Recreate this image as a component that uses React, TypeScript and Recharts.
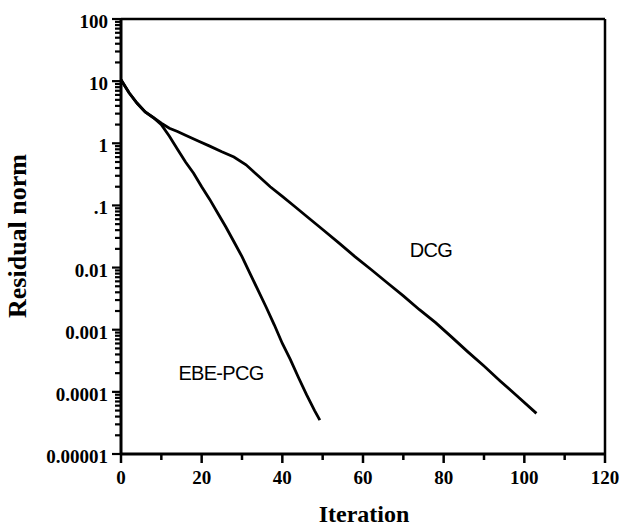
import { LineChart, Line, XAxis, YAxis, ReferenceLine } from "recharts";

// DCG convergence history (residual norm per iteration)
const dcgIter = [0, 2, 4, 6, 8, 10, 12, 14, 16, 19, 22, 25, 28, 31, 34, 37, 40, 43, 46, 50, 54, 58, 62, 66, 70, 74, 78, 82, 86, 90, 94, 98, 103];
const dcgResid = [10.5, 6.5, 4.4, 3.2, 2.6, 2.1, 1.75, 1.55, 1.35, 1.1, 0.9, 0.73, 0.6, 0.45, 0.3, 0.2, 0.14, 0.097, 0.067, 0.041, 0.025, 0.015, 0.0093, 0.0057, 0.0035, 0.0021, 0.0013, 0.00076, 0.00044, 0.00026, 0.00015, 0.000088, 0.000045];

// EBE-PCG convergence history
const ebeIter = [0, 2, 4, 6, 8, 10, 12, 14, 16, 18, 20, 22, 24, 26, 28, 30, 32, 34, 36, 38, 40, 42, 44, 46, 48, 49.3];
const ebeResid = [10.5, 6.5, 4.4, 3.2, 2.6, 2.0, 1.3, 0.8, 0.5, 0.33, 0.2, 0.125, 0.075, 0.045, 0.026, 0.015, 0.008, 0.0043, 0.0023, 0.0012, 0.0006, 0.00033, 0.00017, 0.00009, 0.00005, 0.000035];

const xTicks = [0, 10, 20, 30, 40, 50, 60, 70, 80, 90, 100, 110, 120];
const xLabelled = [0, 20, 40, 60, 80, 100, 120];
const yDecades = [0.00001, 0.0001, 0.001, 0.01, 0.1, 1, 10, 100];
const yLabels = ["0.00001", "0.0001", "0.001", "0.01", ".1", "1", "10", "100"];
const minorSteps = [2, 3, 4, 5, 6, 7, 8, 9];

const yTicks: number[] = [];
yDecades.forEach((d, i) => {
  yTicks.push(d);
  if (i < yDecades.length - 1) minorSteps.forEach((m) => yTicks.push(d * m));
});

const dcgData = dcgIter.map((x, i) => ({ x, r: dcgResid[i] }));
const ebeData = ebeIter.map((x, i) => ({ x, r: ebeResid[i] }));

const tickFont = {
  fontFamily: "'Liberation Serif', serif",
  fontWeight: 700,
  fontSize: 19,
};

function XTick(props: any) {
  const { x, y, payload } = props;
  const major = xLabelled.includes(payload.value);
  return (
    <g>
      <line x1={x} x2={x} y1={y} y2={y + (major ? 9 : 6)} stroke="#000" strokeWidth={2.5} />
      {major && (
        <text x={x} y={y + 30} textAnchor="middle" fill="#000" style={tickFont}>
          {payload.value}
        </text>
      )}
    </g>
  );
}

function YTick(props: any) {
  const { x, y, payload } = props;
  const idx = yDecades.findIndex((d) => Math.abs(Math.log10(payload.value / d)) < 1e-6);
  const major = idx >= 0;
  return (
    <g>
      <line x1={x} x2={x - (major ? 9 : 6)} y1={y} y2={y} stroke="#000" strokeWidth={2.2} />
      {major && (
        <text x={x - 13} y={y + 9} textAnchor="end" fill="#000" style={tickFont}>
          {yLabels[idx]}
        </text>
      )}
    </g>
  );
}

const serifBold = { fontFamily: "'Liberation Serif', serif", fontWeight: 700 };
const sans = { fontFamily: "'Liberation Sans', sans-serif", fontSize: 20, letterSpacing: -0.7 };

export default function App() {
  return (
    <div style={{ position: "absolute", left: 0, top: 0, width: 636, height: 529, background: "#fff" }}>
      <LineChart width={636} height={529} margin={{ top: 19, right: 31, bottom: 20, left: 50 }}>
        <XAxis
          type="number"
          dataKey="x"
          domain={[0, 120]}
          ticks={xTicks}
          interval={0}
          tick={<XTick />}
          tickLine={false}
          tickSize={0}
          tickMargin={0}
          height={55}
          axisLine={{ stroke: "#000", strokeWidth: 3 }}
          allowDataOverflow
        />
        <YAxis
          type="number"
          scale="log"
          domain={[0.00001, 100]}
          ticks={yTicks}
          interval={0}
          tick={<YTick />}
          tickLine={false}
          tickSize={0}
          tickMargin={0}
          width={71}
          axisLine={{ stroke: "#000", strokeWidth: 3 }}
          allowDataOverflow
        />
        <ReferenceLine y={100} stroke="#000" strokeWidth={2.5} />
        <ReferenceLine x={120} stroke="#000" strokeWidth={2.5} />
        <Line
          data={dcgData}
          dataKey="r"
          type="linear"
          stroke="#000"
          strokeWidth={2.8}
          dot={false}
          isAnimationActive={false}
        />
        <Line
          data={ebeData}
          dataKey="r"
          type="linear"
          stroke="#000"
          strokeWidth={2.8}
          dot={false}
          isAnimationActive={false}
        />
      </LineChart>
      <div style={{ position: "absolute", left: 431, top: 250, transform: "translate(-50%, -50%)", whiteSpace: "nowrap", ...sans }}>
        DCG
      </div>
      <div style={{ position: "absolute", left: 221, top: 373, transform: "translate(-50%, -50%)", whiteSpace: "nowrap", ...sans }}>
        EBE-PCG
      </div>
      <div style={{ position: "absolute", left: 364, top: 514, transform: "translate(-50%, -50%)", whiteSpace: "nowrap", fontSize: 24, ...serifBold }}>
        Iteration
      </div>
      <div style={{ position: "absolute", left: 18, top: 236, transform: "translate(-50%, -50%) rotate(-90deg)", whiteSpace: "nowrap", fontSize: 26, ...serifBold }}>
        Residual norm
      </div>
    </div>
  );
}
